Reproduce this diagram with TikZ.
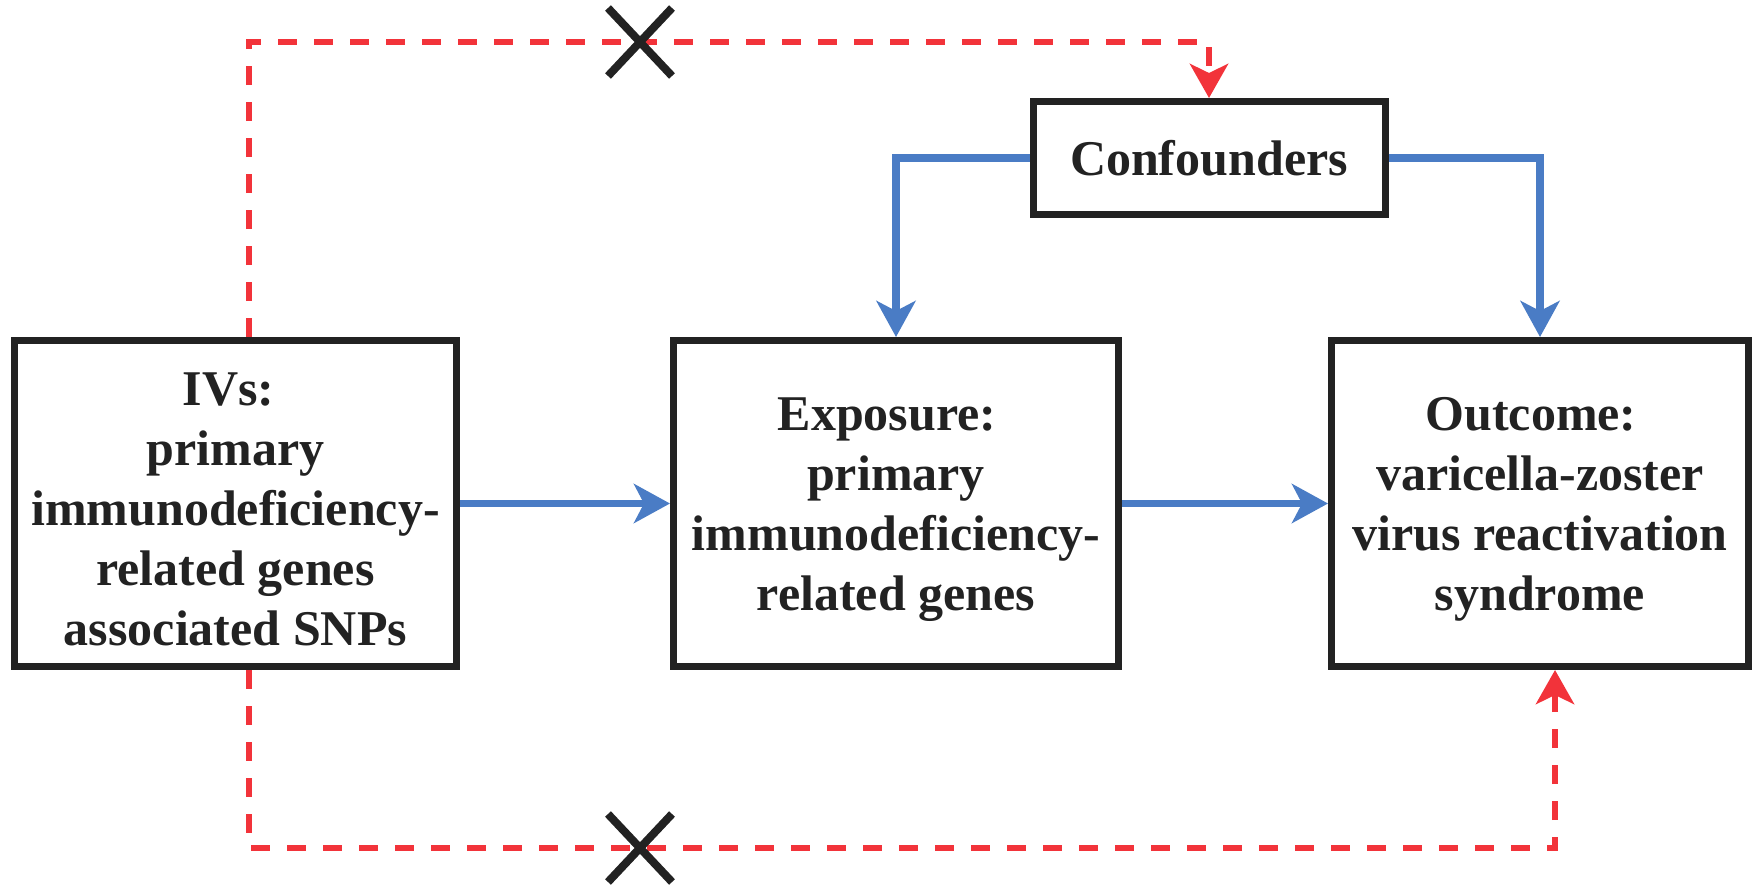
\documentclass[tikz,border=0pt]{standalone}
\usepackage{fontspec}
\setmainfont{Liberation Serif}
\usetikzlibrary{arrows.meta}
\definecolor{boxc}{HTML}{222222}
\definecolor{bluec}{HTML}{4A7CC5}
\definecolor{redc}{HTML}{F2333A}
\newcommand{\firststrut}{\rule{0pt}{45pt}}
\tikzset{
  box/.style={draw=boxc, line width=7pt, text=boxc, align=center, inner sep=0pt,
    font=\fontsize{50}{60}\selectfont\bfseries},
  blueline/.style={draw=bluec, line width=7.5pt, -{Stealth[length=36pt,width=39pt,inset=10pt]}},
  redline/.style={draw=redc, line width=6.5pt, dash pattern=on 19pt off 17pt, -{Stealth[length=34pt,width=38pt,inset=9pt]}},
  xmark/.style={draw=boxc, line width=8pt}
}
\begin{document}
\begin{tikzpicture}[x=1pt,y=-1pt]
\useasboundingbox (0,0) rectangle (1761,892);
\node[box, minimum width=442, minimum height=326] (ivs) at (235.5,503.5)
  {\firststrut\mbox{IVs:\hspace*{14pt}}\\primary\\immunodeficiency-\\related genes\\associated SNPs};
\node[box, minimum width=445, minimum height=326] (exp) at (896,503.5)
  {\firststrut\mbox{Exposure:\hspace*{18pt}}\\primary\\immunodeficiency-\\related genes};
\node[box, minimum width=417, minimum height=326] (out) at (1540,503.5)
  {\firststrut\mbox{Outcome:\hspace*{18pt}}\\varicella-zoster\\virus reactivation\\syndrome};
\node[box, minimum width=352, minimum height=113] (conf) at (1209,158) {Confounders};
\coordinate (t1) at (249,42);
\coordinate (b2) at (1555,848);
\draw[blueline] (ivs.east) -- (exp.west);
\draw[blueline] (exp.east) -- (out.west);
\draw[blueline] (conf.west) -| (exp.north);
\draw[blueline] (conf.east) -| (out.north);
\draw[redline] (ivs.north -| t1) -- (t1) -| (conf.north);
\draw[redline] (ivs.south -| t1) |- (b2) -- (out.south -| b2);
\draw[xmark] (608,8) -- (672,76) (608,76) -- (672,8);
\draw[xmark] (608,814) -- (672,882) (608,882) -- (672,814);
\end{tikzpicture}
\end{document}
